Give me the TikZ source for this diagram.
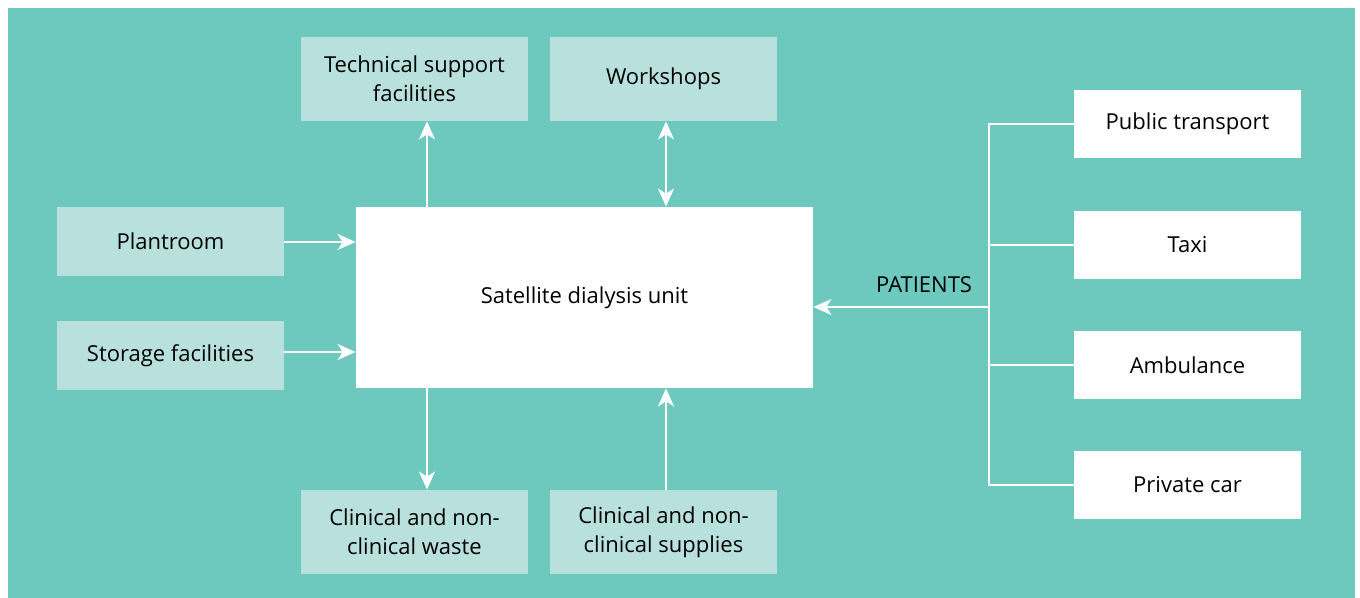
\documentclass[tikz,border=0pt]{standalone}
\usepackage{fontspec}
\setmainfont{Open Sans}
\usetikzlibrary{arrows.meta}
\definecolor{teal}{HTML}{6DC8BE}
\definecolor{paleteal}{HTML}{B8E1DD}
\tikzset{
	% pale boxes round the unit
	facility/.style={fill=paleteal,minimum width=113.5pt,minimum height=42pt,align=center,inner sep=0pt,font=\fontsize{11}{14.5}\selectfont},
	% white boxes for the ways patients arrive
	travel/.style={fill=white,minimum width=113.5pt,minimum height=34pt,align=center,inner sep=0pt,font=\fontsize{11}{14.5}\selectfont},
	% white connector lines
	link/.style={draw=white,line width=1.2pt},
	tip/.tip={Stealth[length=9pt,width=8pt,inset=2.5pt]},
	arr/.style={link,-tip},
}

\begin{document}
\begin{tikzpicture}[x=0.5pt,y=-0.5pt]
		\useasboundingbox (0,0) rectangle (1360,598);
		\fill[teal] (8,8) rectangle (1355,598);
		\node[facility] (tech) at (414.5,79) {Technical support\\facilities};
		\node[facility] (workshops) at (663.5,79) {Workshops};
		\node[facility,minimum height=34.5pt] (plant) at (170.5,241.5) {Plantroom};
		\node[facility,minimum height=34.5pt] (storage) at (170.5,355.5) {Storage facilities};
		\node[travel,minimum width=228.5pt,minimum height=90.5pt] (unit) at (584.5,297.5) {Satellite dialysis unit};
		\node[facility] (waste) at (414.5,532) {Clinical and non-\\clinical waste};
		\node[facility] (supplies) at (663.5,532) {Clinical and non-\\clinical supplies};
		\node[travel] (public) at (1187.5,124) {Public transport};
		\node[travel] (taxi) at (1187.5,245) {Taxi};
		\node[travel] (ambulance) at (1187.5,365) {Ambulance};
		\node[travel] (car) at (1187.5,485) {Private car};
		\coordinate (bus) at (989,307);
		% arrows round the unit
		\draw[arr] (plant.east |- 0,242) -- (unit.west |- 0,242);
		\draw[arr] (storage.east |- 0,352) -- (unit.west |- 0,352);
		\draw[arr] (unit.north -| 427,0) -- (tech.south -| 427,0);
		\draw[link,tip-tip] (unit.north -| 666,0) -- (workshops.south -| 666,0);
		\draw[arr] (unit.south -| 427,0) -- (waste.north -| 427,0);
		\draw[arr] (supplies.north -| 666,0) -- (unit.south -| 666,0);
		% patients
		\draw[link] (public.west) -- (bus |- public.west) -- (bus |- car.west) -- (car.west);
		\draw[link] (taxi.west) -- (bus |- taxi.west);
		\draw[link] (ambulance.west) -- (bus |- ambulance.west);
		\draw[arr] (bus) -- (unit.east |- bus) node[pos=0.37,above=3pt,font=\fontsize{11}{14.5}\selectfont] {PATIENTS};
		\end{tikzpicture}
\end{document}
